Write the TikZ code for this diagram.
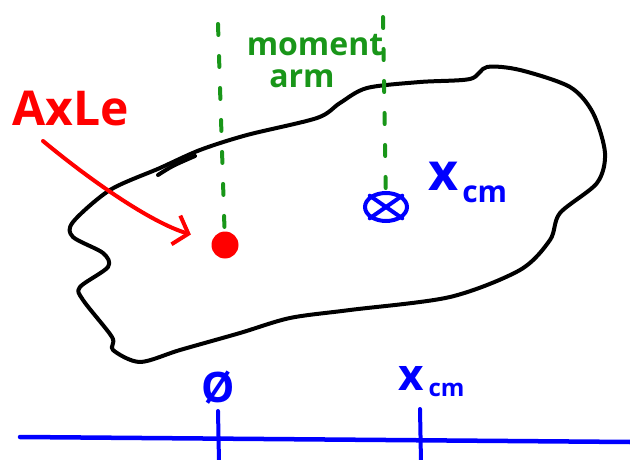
\documentclass[tikz,border=0pt]{standalone}
\usepackage{fontspec}
\setmainfont{Open Sans}
\usetikzlibrary{arrows.meta}
\usetikzlibrary{shapes.geometric}
\usetikzlibrary{calc}
\usetikzlibrary{positioning}

\definecolor{penred}{RGB}{255,0,0}
\definecolor{pengreen}{RGB}{25,150,25}
\definecolor{penblue}{RGB}{0,0,255}

\tikzset{
    blob/.style={line width=4pt, line join=round, line cap=round},
    armline/.style={pengreen, line width=4pt, line cap=round, dash pattern=on 11pt off 21pt},
    axlearrow/.style={penred, line width=4pt, line cap=round, -{Straight Barb[length=13pt,width=30pt,line width=4pt]}},
    axisline/.style={penblue, line width=4.5pt, line cap=round},
    tickline/.style={penblue, line width=4pt, line cap=round},
    greenlbl/.style={pengreen, inner sep=0pt, font=\bfseries\fontsize{32}{32}\selectfont},
    bluelbl/.style={penblue, inner sep=0pt}
}

\begin{document}
\begin{tikzpicture}[x=1pt,y=-1pt]
    \useasboundingbox (0,0) rectangle (630,460);

    % the body
    \draw[blob] plot[smooth cycle] coordinates {
        (73,222) (110,190) (160,168) (200,150) (247,135) (317,118) (340,103) (367,88)
        (420,82) (470,79) (487,67) (520,70) (570,87) (593,113) (605,153) (597,183)
        (560,213) (550,240) (520,270) (450,297) (350,310) (290,318) (240,333) (180,350)
        (140,362) (113,350) (112,337) (83,300) (80,287) (108,267) (103,253) (73,237)};
    \draw[blob] (158,175) .. controls (172,166) .. (195,156);

    \node[circle, fill=penred, inner sep=0pt, minimum size=27pt] (axle) at (225,245) {};
    \node[ellipse, draw=penblue, line width=4pt, inner sep=0pt, minimum width=42pt, minimum height=28pt] (com) at (386,207) {};
    \draw[penblue, line width=4pt, line cap=round] (com.south west) -- (com.north east);
    \draw[penblue, line width=4pt, line cap=round] (com.north west) -- (com.south east);

    % moment arm
    \coordinate (armtopL) at (218,24);
    \coordinate (armtopR) at (383,17);
    \draw[armline] (armtopL) -- (axle);
    \draw[armline] (armtopR) -- (com);
    \node[greenlbl, anchor=base] (momentlbl) at (315,56) {moment};
    \node[greenlbl, anchor=base] (armlbl) at (302,88) {arm};

    \node[penred, inner sep=0pt, anchor=base west, font=\bfseries\fontsize{48}{48}\selectfont] (axlelbl) at (12,125) {AxLe};
    \coordinate (arrowstart) at (43,141);
    \draw[axlearrow, shorten >=22pt] (arrowstart) .. controls (90,180) and (150,222) .. (axle);

    \node[bluelbl, anchor=base west] (comlbl) at (428,190)
        {{\bfseries\fontsize{52}{52}\selectfont x}\hspace{4pt}{\bfseries\fontsize{30}{30}\selectfont\raisebox{-12pt}{cm}}};

    % the axis
    \coordinate (axisL) at (20,437);
    \coordinate (axisR) at (630,442);
    \draw[axisline] (axisL) -- (axisR);
    \coordinate (tick0top) at (218,411);
    \coordinate (tick0bot) at (219,462);
    \coordinate (tick1top) at (420,409);
    \coordinate (tick1bot) at (421,462);
    \draw[tickline] (tick0top) -- (tick0bot);
    \draw[tickline] (tick1top) -- (tick1bot);
    \node[bluelbl, font=\bfseries\fontsize{42}{42}\selectfont] (zerolbl) at (218,388) {Ø};
    \node[bluelbl, anchor=base west] (xcmlbl) at (398,390)
        {{\bfseries\fontsize{44}{44}\selectfont x}\hspace{5pt}{\bfseries\fontsize{24}{24}\selectfont\raisebox{-6pt}{cm}}};
\end{tikzpicture}
\end{document}
